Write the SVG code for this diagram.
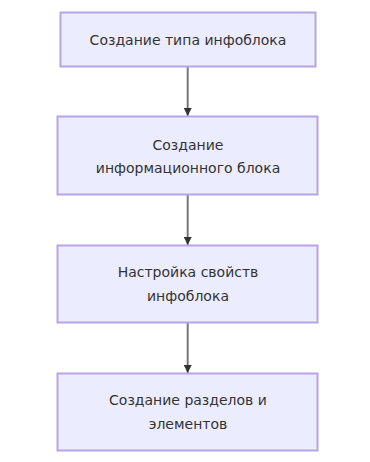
<svg xmlns="http://www.w3.org/2000/svg" width="370" height="462" viewBox="0 0 370 462">
<defs>
<style>
.node rect{fill:#ECECFF;stroke:#B7A4E6;stroke-width:2}
.node text{font-family:"Trebuchet MS","DejaVu Sans","Liberation Sans",sans-serif;font-size:14px;fill:#333;text-anchor:middle;dominant-baseline:central}
.edge{stroke:#777;stroke-width:2;fill:none;marker-end:url(#arr)}
</style>
<marker id="arr" viewBox="0 0 10 10" refX="10" refY="5" markerWidth="8" markerHeight="8" markerUnits="userSpaceOnUse" orient="auto"><path d="M0,0L10,5L0,10z" fill="#333"/></marker>
</defs>
<rect width="370" height="462" fill="#fff"/>
<g id="edges">
<path class="edge" d="M187.7,67V116"/>
<path class="edge" d="M187.7,195V245"/>
<path class="edge" d="M187.7,323V373"/>
</g>
<g id="n1" class="node"><rect x="60.5" y="12.5" width="255" height="54"/><text x="188" y="40">Создание типа инфоблока</text></g>
<g id="n2" class="node"><rect x="57.5" y="116.5" width="260" height="78"/><text x="188" y="145">Создание</text><text x="188" y="168">информационного блока</text></g>
<g id="n3" class="node"><rect x="57.5" y="245.5" width="260" height="77"/><text x="188" y="272">Настройка свойств</text><text x="188" y="296">инфоблока</text></g>
<g id="n4" class="node"><rect x="57.5" y="373.5" width="260" height="77"/><text x="188" y="400">Создание разделов и</text><text x="188" y="424">элементов</text></g>
</svg>
